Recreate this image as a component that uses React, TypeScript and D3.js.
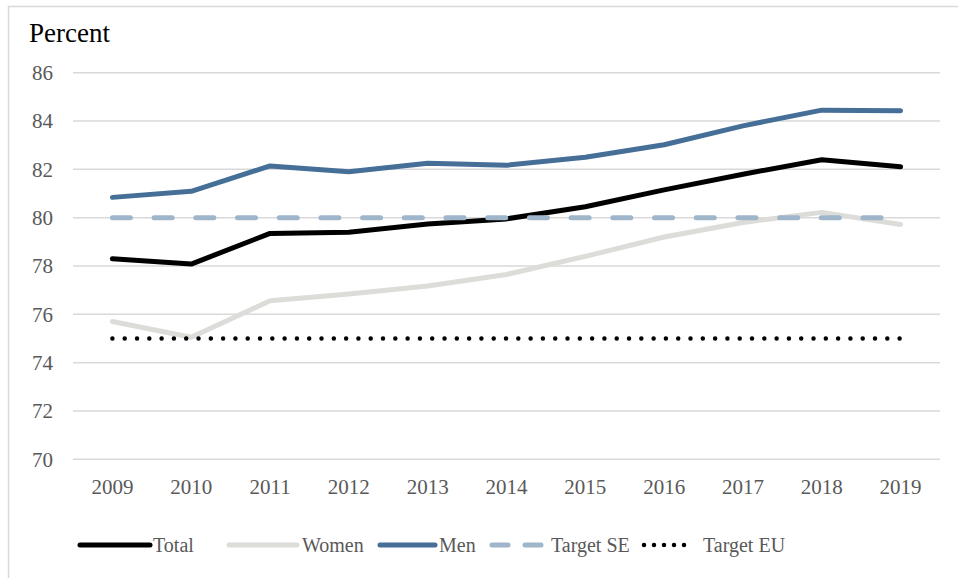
import React from "react";
import * as d3 from "d3";

const years = ["2009","2010","2011","2012","2013","2014","2015","2016","2017","2018","2019"];
const total = [78.3, 78.08, 79.35, 79.4, 79.74, 79.95, 80.45, 81.15, 81.8, 82.4, 82.11];
const women = [75.7, 75.05, 76.56, 76.84, 77.17, 77.65, 78.4, 79.2, 79.8, 80.22, 79.72];
const men = [80.84, 81.09, 82.14, 81.9, 82.25, 82.17, 82.5, 83.02, 83.8, 84.45, 84.43];
const targetSE = years.map(() => 80);
const targetEU = years.map(() => 75);
const yTicks = [70, 72, 74, 76, 78, 80, 82, 84, 86];

const W = 958, H = 578;
const FONT = "'Liberation Serif', 'DejaVu Serif', serif";
const TXT = "#595959";

export default function App() {
  const x = d3.scalePoint<string>().domain(years).range([73, 940]).padding(0.5);
  const y = d3.scaleLinear().domain([70, 86]).range([459.3, 72.7]);
  const line = d3.line<number>().x((_, i) => x(years[i]) as number).y((d) => y(d));

  const series = [
    { name: "Total", data: total, color: "#000000", dash: undefined as string | undefined, width: 5, lx: [80, 150], tx: 153 },
    { name: "Women", data: women, color: "#DCDCD8", dash: undefined, width: 5, lx: [229, 297], tx: 302 },
    { name: "Men", data: men, color: "#466F98", dash: undefined, width: 5, lx: [380, 435], tx: 439 },
    { name: "Target SE", data: targetSE, color: "#9FB5CA", dash: "18 23.7", width: 5, lx: [492, 541], tx: 551 },
    { name: "Target EU", data: targetEU, color: "#000000", dash: "0 12.3", width: 4.5, lx: [644, 694], tx: 703 },
  ];
  const drawOrder = [1, 0, 2, 3, 4];

  return (
    <svg width={W} height={H} style={{ position: "absolute", left: 0, top: 0, background: "#fff" }}>
      <rect x={8.5} y={6.5} width={1000} height={1000} fill="#fff" stroke="#D9D9D9" strokeWidth={1.5} />
      <text x={29} y={41.5} fontFamily={FONT} fontSize={27} fill="#000">Percent</text>
      {yTicks.map((t) => (
        <g key={t}>
          <line x1={73} x2={940} y1={y(t)} y2={y(t)} stroke="#D9D9D9" strokeWidth={1.5} />
          <text x={53} y={y(t)} dy="0.35em" textAnchor="end" fontFamily={FONT} fontSize={21} fill={TXT}>{t}</text>
        </g>
      ))}
      {years.map((yr) => (
        <text key={yr} x={x(yr)} y={494} textAnchor="middle" fontFamily={FONT} fontSize={21} fill={TXT}>{yr}</text>
      ))}
      {drawOrder.map((i) => {
        const s = series[i];
        return (
          <path key={s.name} d={line(s.data) || ""} fill="none" stroke={s.color} strokeWidth={s.width}
            strokeDasharray={s.dash} strokeLinecap="round" strokeLinejoin="round" />
        );
      })}
      {series.map((s) => (
        <g key={s.name + "-leg"}>
          <line x1={s.lx[0]} x2={s.lx[1]} y1={545} y2={545} stroke={s.color} strokeWidth={s.width}
            strokeDasharray={s.name === "Target SE" ? "16 17" : s.name === "Target EU" ? "0 10" : undefined}
            strokeLinecap="round" />
          <text x={s.tx} y={545} dy="0.35em" fontFamily={FONT} fontSize={20} fill={TXT}>{s.name}</text>
        </g>
      ))}
    </svg>
  );
}
